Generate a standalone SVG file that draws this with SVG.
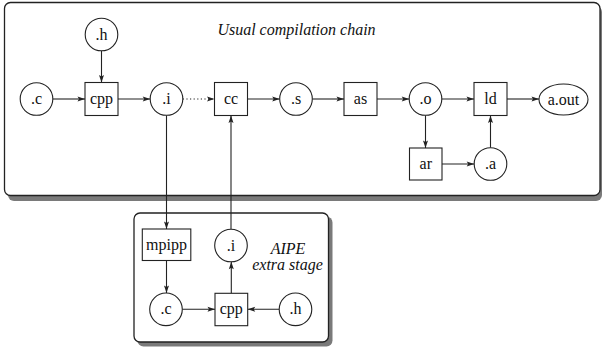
<svg xmlns="http://www.w3.org/2000/svg" width="602" height="349" viewBox="0 0 602 349">
<style>
text{font-family:"Liberation Serif","Times New Roman",serif;font-size:16px;fill:#111;text-anchor:middle}
.it{font-style:italic}
.n{fill:#fff;stroke:#222;stroke-width:1.1}
.frame{fill:#fff;stroke:#222;stroke-width:1.3}
.shadow{fill:#7a7a7a}
.e{fill:none;stroke:#222;stroke-width:1.1;marker-end:url(#ah)}
.dot{stroke-dasharray:1.2 2.4}
</style>
<defs>
<marker id="ah" markerUnits="userSpaceOnUse" markerWidth="8" markerHeight="6" refX="7.5" refY="2.5" orient="auto" overflow="visible">
<path d="M0,0 L7.5,2.5 L0,5 L1.5,2.5 Z" fill="#222"/>
</marker>
</defs>
<rect width="602" height="349" fill="#fff"/>
<g id="outer-frame">
<rect class="shadow" x="8" y="6" width="594" height="195" rx="6"/>
<rect class="frame" x="4.5" y="2.5" width="595.5" height="193" rx="6"/>
<text class="it" x="296.5" y="35">Usual compilation chain</text>
</g>
<g id="inner-frame">
<rect class="shadow" x="137.5" y="216.5" width="195" height="130" rx="6"/>
<rect class="frame" x="134" y="213" width="194.5" height="129" rx="6"/>
<text class="it" x="288" y="254">AIPE</text>
<text class="it" x="287.5" y="270">extra stage</text>
</g>
<g id="connectors">
<line class="e" x1="53" y1="99" x2="85" y2="99"/>
<line class="e" x1="101.5" y1="50.8" x2="101.5" y2="82.5"/>
<line class="e" x1="118" y1="99" x2="150.2" y2="99"/>
<line class="e dot" x1="182.8" y1="99" x2="214.5" y2="99"/>
<line class="e" x1="247.5" y1="99" x2="279.7" y2="99"/>
<line class="e" x1="312.3" y1="99" x2="344" y2="99"/>
<line class="e" x1="377" y1="99" x2="409.2" y2="99"/>
<line class="e" x1="441.8" y1="99" x2="474" y2="99"/>
<line class="e" x1="507" y1="99" x2="539" y2="99"/>
<line class="e" x1="425.5" y1="115.3" x2="425.5" y2="148"/>
<line class="e" x1="442" y1="164" x2="474.2" y2="164"/>
<line class="e" x1="490.5" y1="147.7" x2="490.5" y2="115.5"/>
<line class="e" x1="166.5" y1="115.3" x2="166.5" y2="229"/>
<line class="e" x1="231" y1="229" x2="231" y2="115.5"/>
<line class="e" x1="166.5" y1="260.5" x2="166.5" y2="293"/>
<line class="e" x1="182.3" y1="309.3" x2="215" y2="309.3"/>
<line class="e" x1="279.2" y1="309.3" x2="247.7" y2="309.3"/>
<line class="e" x1="231.3" y1="293.3" x2="231.3" y2="261.8"/>
</g>
<g id="c"><circle class="n" cx="36.5" cy="99" r="16.3"/><text x="36.5" y="104">.c</text></g>
<g id="h"><circle class="n" cx="101.5" cy="34.5" r="16.3"/><text x="101.5" y="39.5">.h</text></g>
<g id="cpp"><rect class="n" x="85" y="82.5" width="33" height="33"/><text x="101.5" y="104">cpp</text></g>
<g id="i"><circle class="n" cx="166.5" cy="99" r="16.3"/><text x="166.5" y="104">.i</text></g>
<g id="cc"><rect class="n" x="214.5" y="82.5" width="33" height="33"/><text x="231" y="104">cc</text></g>
<g id="s"><circle class="n" cx="296" cy="99" r="16.3"/><text x="296" y="104">.s</text></g>
<g id="as"><rect class="n" x="344" y="82.5" width="33" height="33"/><text x="360.5" y="104">as</text></g>
<g id="o"><circle class="n" cx="425.5" cy="99" r="16.3"/><text x="425.5" y="104">.o</text></g>
<g id="ld"><rect class="n" x="474" y="82.5" width="33" height="33"/><text x="490.5" y="104">ld</text></g>
<g id="aout"><ellipse class="n" cx="563.5" cy="99.5" rx="24.5" ry="15.5"/><text x="563.5" y="104.5">a.out</text></g>
<g id="ar"><rect class="n" x="409.5" y="148" width="32.5" height="32"/><text x="425.8" y="169">ar</text></g>
<g id="a"><circle class="n" cx="490.5" cy="164" r="16.3"/><text x="490.5" y="169">.a</text></g>
<g id="mpipp"><rect class="n" x="142.3" y="229" width="48.5" height="31.5"/><text x="166.5" y="250">mpipp</text></g>
<g id="i2"><circle class="n" cx="231" cy="245.5" r="16.3"/><text x="231" y="250.5">.i</text></g>
<g id="c2"><circle class="n" cx="166" cy="309.3" r="16.3"/><text x="166" y="314.3">.c</text></g>
<g id="cpp2"><rect class="n" x="215" y="293.3" width="32.7" height="32.4"/><text x="231.3" y="314.3">cpp</text></g>
<g id="h2"><circle class="n" cx="295.5" cy="309.3" r="16.3"/><text x="295.5" y="314.3">.h</text></g>
</svg>
